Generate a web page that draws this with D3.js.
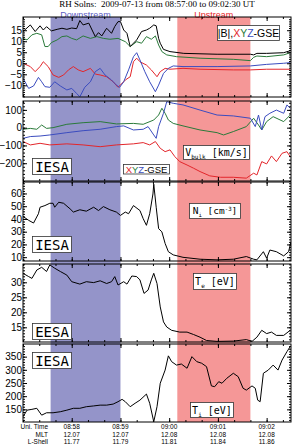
<!DOCTYPE html>
<html>
<head>
<meta charset="utf-8">
<script src="https://cdn.jsdelivr.net/npm/d3@7"></script>
<style>
  body { margin: 0; background: #fff; }
  svg text { font-family: "Liberation Sans", Arial, sans-serif; }
</style>
</head>
<body>
<svg id="chart"></svg>
<script>
const width = 293;
const height = 447;
const red = "#e3262b", green = "#2a7a3a", blue = "#3b4cbf";

// time in seconds after 08:57:00 UT, value
const bMag = [[0,14.4],[9,17.4],[15,14.4],[21,17.0],[25,15.1],[29,16.6],[35,14.7],[42,15.4],[48,15.9],[54,15.4],[60,16.0],[66,15.7],[70,19.4],[74,17.4],[81,18.2],[89,12.1],[93,13.9],[97,12.4],[103,15.9],[109,13.6],[113,16.7],[117,18.9],[120,18.9],[124,15.1],[128,13.6],[132,7.6],[136,9.1],[140,10.6],[146,14.4],[152,15.1],[156,15.9],[161,17.4],[164,17.0],[167,11.3],[169,9.1],[173,6.3],[181,5.3],[198,4.5],[239,4.1],[280,4.1],[284,3.8],[288,4.5],[300,4.5],[321,4.8],[329,5.7]];
const bX = [[0,0],[9,-1.5],[15,-3.8],[21,-1.5],[25,0.7],[31,-1.5],[37,-5.3],[44,-6.4],[50,-5.3],[56,-3.0],[62,-1.5],[68,-3.0],[74,-3.8],[83,-2.3],[89,-4.9],[95,-5.3],[103,-6.1],[111,-8.4],[117,-10.9],[122,-9.1],[126,-7.6],[132,-6.1],[136,0.7],[140,2.3],[144,0.7],[152,-0.8],[158,-3.0],[165,-6.1],[169,-3.8],[175,-2.3],[181,-2.7],[197,-2.3],[218,-2.7],[259,-3.0],[280,-3.0],[300,-2.7],[329,-2.7]];
const bY = [[0,11.3],[5,10.6],[11,12.9],[17,13.6],[23,12.9],[27,7.6],[31,7.6],[35,9.4],[42,10.6],[48,12.1],[54,12.4],[60,11.3],[66,10.6],[74,12.4],[83,11.3],[91,12.1],[99,11.3],[107,10.9],[117,11.3],[126,9.8],[132,7.6],[140,9.8],[146,9.1],[152,12.1],[158,10.9],[163,12.4],[167,8.3],[171,5.3],[177,3.8],[189,3.0],[218,2.3],[259,1.8],[280,1.2],[284,2.7],[288,3.3],[300,3.0],[321,3.8],[329,4.8]];
const bZ = [[0,-6.8],[7,-11.4],[13,-10.3],[19,-6.4],[23,-8.4],[27,-10.6],[33,-10.9],[39,-8.4],[46,-10.3],[54,-12.1],[60,-11.4],[66,-13.7],[70,-15.2],[76,-10.9],[83,-8.4],[89,-3.8],[95,-2.3],[101,-5.3],[109,-7.6],[115,-9.9],[119,-10.9],[124,-8.4],[130,-3.0],[136,3.0],[140,4.8],[144,1.5],[150,-3.8],[156,-8.4],[163,-12.9],[167,-9.9],[173,-4.6],[179,-2.3],[185,-1.2],[197,-1.5],[239,-1.5],[280,-1.2],[300,-0.5],[321,0],[329,0.3]];

const vX = [[0,-78],[9,-97],[21,-88],[33,-97],[54,-91],[74,-97],[95,-107],[115,-97],[136,-91],[148,-84],[156,-97],[163,-78],[169,-116],[175,-135],[181,-125],[187,-163],[193,-191],[202,-210],[210,-228],[218,-247],[230,-271],[243,-279],[259,-279],[275,-284],[284,-256],[288,-266],[294,-191],[300,-204],[306,-159],[312,-191],[319,-144],[325,-135],[329,-163]];
const vY = [[0,-9],[9,-4],[17,-9],[23,15],[29,-4],[37,0],[54,19],[74,28],[95,34],[115,21],[136,24],[148,19],[161,43],[167,71],[171,109],[175,81],[179,43],[185,24],[197,10],[218,-13],[239,-28],[247,-41],[259,-22],[275,6],[284,53],[290,15],[294,-13],[300,34],[308,62],[321,34],[329,71]];
const vZ = [[0,-60],[9,-50],[21,-47],[33,-41],[54,-28],[74,-17],[95,-9],[115,6],[124,10],[136,-13],[148,-9],[154,6],[161,-41],[164,-60],[167,6],[173,81],[177,146],[185,137],[197,128],[218,99],[239,71],[259,66],[280,53],[286,6],[290,71],[294,-13],[298,62],[304,81],[312,99],[321,81],[325,128],[329,109]];

const nIon = [[0,42.0],[7,38.9],[13,36.8],[19,44.1],[21,49.2],[27,50.5],[33,52.3],[37,52.3],[39,49.2],[44,53.1],[50,52.3],[58,47.9],[62,45.4],[70,47.2],[78,46.1],[87,49.2],[93,46.6],[99,49.7],[107,47.2],[115,45.4],[120,42.8],[126,45.4],[130,44.1],[136,50.5],[144,46.6],[148,40.2],[152,35.0],[156,44.1],[160,59.6],[161,67.3],[164,49.2],[167,32.4],[171,29.9],[175,20.8],[179,14.3],[185,11.8],[197,9.9],[218,8.4],[239,7.9],[259,8.4],[275,10.5],[284,8.4],[288,7.9],[296,14.3],[300,9.2],[304,15.6],[312,14.3],[321,11.0],[327,14.3],[330,22.1]];

const tElec = [[0,33.0],[7,31.9],[11,31.3],[17,34.1],[23,35.0],[29,33.6],[33,35.8],[39,34.7],[46,33.6],[54,32.4],[60,30.2],[70,29.4],[78,30.2],[87,29.9],[95,30.5],[103,29.6],[109,30.2],[113,31.9],[117,29.1],[124,30.2],[128,29.4],[134,32.1],[140,31.9],[144,30.8],[149,26.3],[154,27.4],[158,30.8],[161,33.0],[165,29.6],[169,21.8],[173,16.8],[177,15.1],[183,14.0],[193,13.4],[202,13.4],[210,12.6],[218,11.7],[226,10.6],[239,10.3],[259,10.4],[275,10.9],[282,10.3],[288,11.7],[294,14.0],[300,12.9],[306,13.4],[312,12.3],[321,12.3],[329,14.0]];

const tIon = [[0,122],[5,147],[11,150],[17,154],[23,128],[29,137],[37,137],[46,141],[54,147],[62,154],[70,154],[78,160],[87,163],[95,166],[103,166],[111,170],[117,179],[122,188],[126,179],[132,160],[138,173],[144,185],[152,208],[156,173],[161,103],[165,160],[169,249],[175,299],[179,353],[183,331],[189,318],[195,322],[202,306],[208,350],[214,331],[220,325],[226,312],[232,239],[236,236],[241,255],[245,249],[251,268],[259,287],[265,274],[271,230],[275,223],[282,239],[286,230],[289,185],[292,179],[296,287],[302,299],[308,318],[314,299],[319,337],[325,369],[329,388]];

// shaded intervals (seconds after 08:57:00)
const downstream = [34, 120];
const upstream = [190, 280];

// bottom annotation
const tickSecs = [60, 120, 180, 240, 300];
const mltLabels = ["12.07", "12.07", "12.08", "12.08", "12.08"];
const lshellLabels = ["11.77", "11.79", "11.81", "11.84", "11.86"];

const panels = [
  { top: 17, bottom: 97, domain: [-15.3, 21], ticks: [-10, -5, 0, 5, 10, 15], minor: 1,
    series: [[bY, green], [bX, red], [bZ, blue], [bMag, "#000"]] },
  { top: 101, bottom: 181, domain: [-300, 150], ticks: [-200, -100, 0, 100], minor: 20,
    series: [[vY, green], [vZ, blue], [vX, red]] },
  { top: 182, bottom: 261, domain: [7, 69], ticks: [10, 20, 30, 40, 50, 60], minor: 2,
    series: [[nIon, "#000"]] },
  { top: 264, bottom: 342, domain: [10.1, 36.1], ticks: [15, 20, 25, 30], minor: 1,
    series: [[tElec, "#000"]] },
  { top: 344, bottom: 422, domain: [102, 398], ticks: [150, 200, 250, 300, 350], minor: 10,
    series: [[tIon, "#000"]] }
];

const svg = d3.select("#chart").attr("width", width).attr("height", height);
const t0 = Date.UTC(2009, 6, 13, 8, 57, 0);
const at = s => new Date(t0 + s * 1000);
const x = d3.scaleUtc().domain([at(0), at(330)]).range([23, 291]);

// title
svg.append("text")
    .attr("x", 157).attr("y", 7)
    .attr("text-anchor", "middle")
    .style("font-family", "'Liberation Serif', 'Times New Roman', serif")
    .style("font-size", "9px")
    .style("white-space", "pre")
    .text("RH Solns:  2009-07-13 from 08:57:00 to 09:02:30 UT");

// shading
svg.append("rect")
    .attr("x", x(at(downstream[0]))).attr("y", 17)
    .attr("width", x(at(downstream[1])) - x(at(downstream[0]))).attr("height", 405)
    .attr("fill", "#9494c9");
svg.append("rect")
    .attr("x", x(at(upstream[0]))).attr("y", 17)
    .attr("width", x(at(upstream[1])) - x(at(upstream[0]))).attr("height", 405)
    .attr("fill", "#f59797");

svg.append("text").attr("x", (x(at(downstream[0])) + x(at(downstream[1]))) / 2).attr("y", 17.5)
    .attr("text-anchor", "middle").style("font-size", "9px").attr("fill", "#5d5dc4").text("Downstream");
svg.append("text").attr("x", (x(at(upstream[0])) + x(at(upstream[1]))) / 2).attr("y", 17.5)
    .attr("text-anchor", "middle").style("font-size", "9px").attr("fill", "#e8262b").text("Upstream");

const majorDates = tickSecs.map(at);
const minorDates = d3.range(0, 331, 20).map(at);

panels.forEach((p, i) => {
    const y = d3.scaleLinear().domain(p.domain).range([p.bottom, p.top]);
    const g = svg.append("g");
    const clipId = "clip" + i;
    svg.append("clipPath").attr("id", clipId).append("rect")
        .attr("x", 23).attr("y", p.top).attr("width", 268).attr("height", p.bottom - p.top);

    const line = d3.line().x(d => x(at(d[0]))).y(d => y(d[1]));
    p.series.forEach(([data, color]) => {
        g.append("path").datum(data)
            .attr("clip-path", `url(#${clipId})`)
            .attr("d", line)
            .attr("fill", "none")
            .attr("stroke", color)
            .attr("stroke-width", 1);
    });

    const minorY = d3.range(Math.ceil(p.domain[0] / p.minor) * p.minor, p.domain[1], p.minor);
    const axes = [
        [d3.axisLeft(y).tickValues(p.ticks).tickSize(-4).tickPadding(1).tickFormat(d3.format("d")), 23, 0],
        [d3.axisLeft(y).tickValues(minorY).tickSize(-2).tickFormat(""), 23, 0],
        [d3.axisRight(y).tickValues(p.ticks).tickSize(-4).tickFormat(""), 291, 0],
        [d3.axisRight(y).tickValues(minorY).tickSize(-2).tickFormat(""), 291, 0],
        [d3.axisBottom(x).tickValues(majorDates).tickSize(-4).tickFormat(""), 0, p.bottom],
        [d3.axisBottom(x).tickValues(minorDates).tickSize(-2).tickFormat(""), 0, p.bottom],
        [d3.axisTop(x).tickValues(majorDates).tickSize(-4).tickFormat(""), 0, p.top],
        [d3.axisTop(x).tickValues(minorDates).tickSize(-2).tickFormat(""), 0, p.top]
    ];
    axes.forEach(([ax, tx, ty]) => {
        const a = g.append("g").attr("transform", `translate(${tx},${ty})`).call(ax);
        a.select(".domain").remove();
        a.selectAll("text").style("font-size", "10px").style("font-family", "'Liberation Sans', Arial, sans-serif");
        a.selectAll("line").attr("stroke", "#000");
    });

    g.append("rect")
        .attr("x", 23).attr("y", p.top).attr("width", 268).attr("height", p.bottom - p.top)
        .attr("fill", "none").attr("stroke", "#000").attr("stroke-width", 1);
});

// label boxes
function labelBox(bx, by, w, h, parts, family, size) {
    svg.append("rect").attr("x", bx + 0.5).attr("y", by + 0.5).attr("width", w).attr("height", h)
        .attr("fill", "#fff").attr("stroke", "#333").attr("stroke-width", 0.8);
    const t = svg.append("text")
        .attr("x", bx + w / 2 + 0.5).attr("y", by + h / 2 + size * 0.36 + 0.5)
        .attr("text-anchor", "middle")
        .style("font-family", family).style("font-size", size + "px").style("white-space", "pre");
    let shift = 0;
    parts.forEach(pt => {
        const target = pt.sub ? size * 0.3 : pt.sup ? -size * 0.35 : 0;
        t.append("tspan")
            .attr("dy", target - shift)
            .style("font-size", (pt.sub || pt.sup ? size * 0.6 : size) + "px")
            .attr("fill", pt.c || "#000")
            .text(pt.t);
        shift = target;
    });
}

const mono = "'DejaVu Sans Mono', 'Liberation Mono', monospace";
const sans = "'Liberation Sans', Arial, sans-serif";
labelBox(217, 25, 62, 15, [{ t: "|B|," }, { t: "X", c: red }, { t: "Y", c: green }, { t: "Z", c: blue }, { t: "-GSE" }], sans, 10.5);
labelBox(32, 158, 39, 16, [{ t: "IESA" }], mono, 14);
labelBox(183, 145, 66, 14, [{ t: "V" }, { t: "bulk", sub: true }, { t: " [km/s]" }], mono, 10);
labelBox(123, 164, 46, 9.5, [{ t: "X", c: red }, { t: "Y", c: green }, { t: "Z", c: blue }, { t: "-GSE" }], sans, 9.5);
labelBox(189, 203, 51, 15, [{ t: "N" }, { t: "i", sub: true }, { t: " [cm" }, { t: "-3", sup: true }, { t: "]" }], mono, 9.5);
labelBox(32, 236, 39, 16, [{ t: "IESA" }], mono, 14);
labelBox(193, 273, 43, 16, [{ t: "T" }, { t: "e", sub: true }, { t: " [eV]" }], mono, 10);
labelBox(32, 323, 39, 16, [{ t: "EESA" }], mono, 14);
labelBox(32, 352, 39, 16, [{ t: "IESA" }], mono, 14);
labelBox(190, 402, 43, 15, [{ t: "T" }, { t: "i", sub: true }, { t: " [eV]" }], mono, 10);

// bottom annotation rows
const rows = [["Uni. Time", majorDates.map(d3.utcFormat("%H:%M")), 429],
              ["MLT", mltLabels, 436.5],
              ["L-Shell", lshellLabels, 444]];
rows.forEach(([name, labels, yy]) => {
    svg.append("text").attr("x", 48).attr("y", yy).attr("text-anchor", "end")
        .style("font-size", "6.5px").text(name);
    svg.selectAll(null).data(labels).enter().append("text")
        .attr("x", (d, i) => x(majorDates[i])).attr("y", yy)
        .attr("text-anchor", "middle").style("font-size", "6.5px").text(d => d);
});
</script>
</body>
</html>
